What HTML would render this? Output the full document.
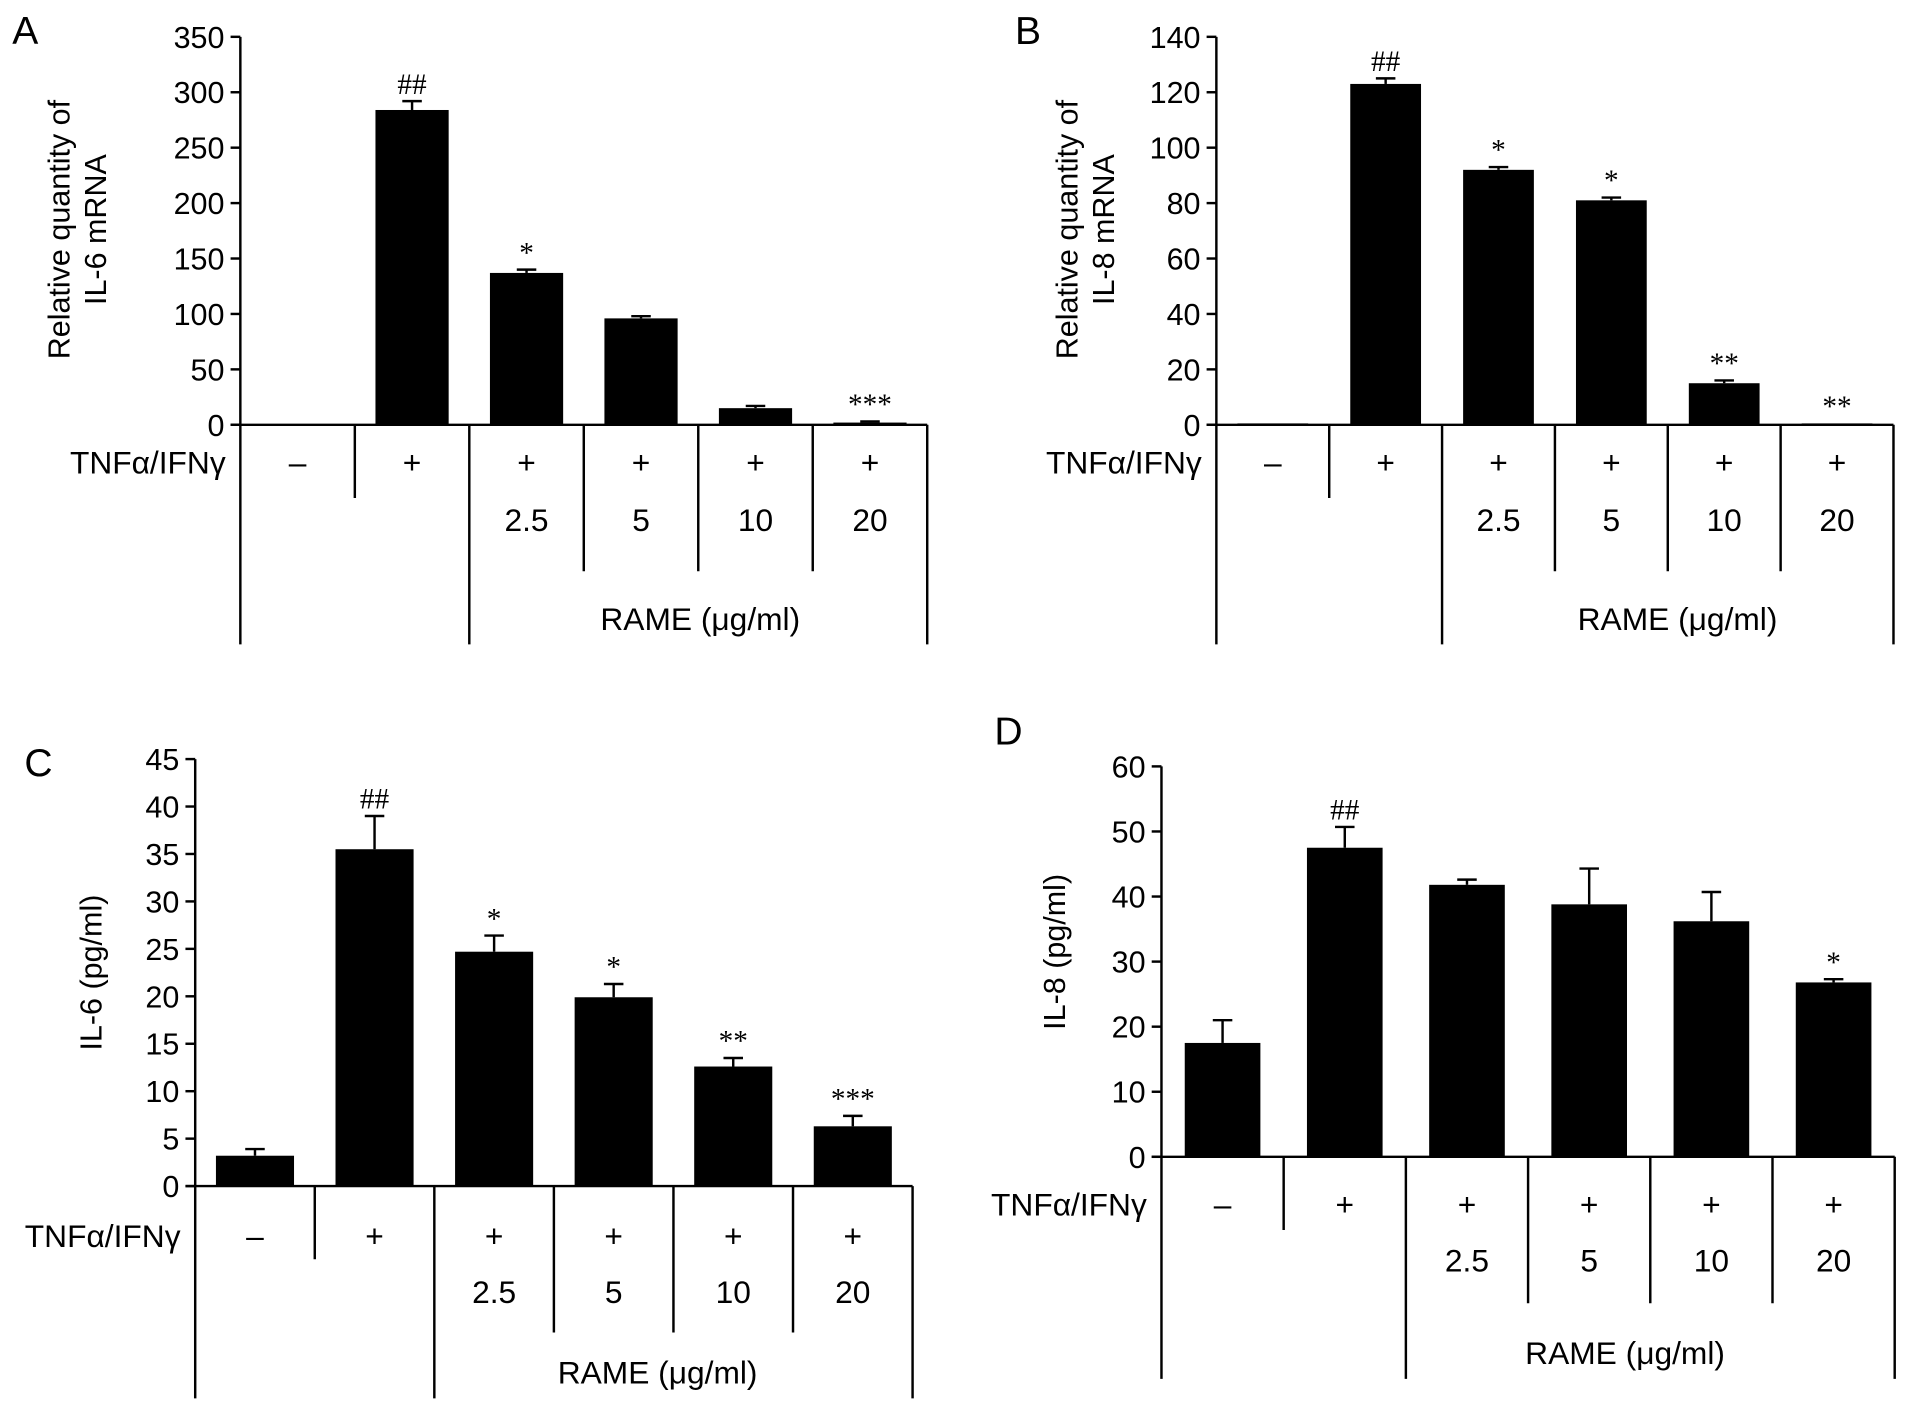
<!DOCTYPE html>
<html><head><meta charset="utf-8"><style>
html,body{margin:0;padding:0;background:#fff}
svg{display:block;font-family:"Liberation Sans",sans-serif}
</style></head><body>
<svg id="fig" width="1913" height="1423" viewBox="0 0 1568 1166" xmlns="http://www.w3.org/2000/svg"></svg>
<script>
// Panel A: IL-6 mRNA
const aValues=[0,284,137,96,15,2];
const aErrors=[0,8,3,2,2,1];
const aMarks=["","##","*","","","***"];
const aTicks=[0,50,100,150,200,250,300,350];
// Panel B: IL-8 mRNA
const bValues=[0.5,123,92,81,15,0.5];
const bErrors=[0,2,1,1,1,0];
const bMarks=["","##","*","*","**","**"];
const bTicks=[0,20,40,60,80,100,120,140];
// Panel C: IL-6 protein
const cValues=[3.2,35.5,24.7,19.9,12.6,6.3];
const cErrors=[0.7,3.5,1.7,1.4,0.9,1.1];
const cMarks=["","##","*","*","**","***"];
const cTicks=[0,5,10,15,20,25,30,35,40,45];
// Panel D: IL-8 protein
const dValues=[17.5,47.5,41.8,38.8,36.2,26.8];
const dErrors=[3.5,3.2,0.8,5.5,4.5,0.5];
const dMarks=["","##","","","","*"];
const dTicks=[0,10,20,30,40,50,60];
const signs=["\u2013","+","+","+","+","+"];
const doses=["","","2.5","5","10","20"];

const svg=document.getElementById('fig');
const NS="http://www.w3.org/2000/svg";
function mk(tag,attrs,parent,text){const e=document.createElementNS(NS,tag);for(const k in attrs)e.setAttribute(k,attrs[k]);if(text!==undefined)e.textContent=text;(parent||svg).appendChild(e);return e;}

function panel(o){
  const g=mk('g',{});
  
  
  const y=v=>o.y0-(v/o.max)*(o.y0-o.yTop);
  const step=(o.xEnd-o.x0)/6;
  const cx=i=>o.x0+step*(i+0.5);
  const ax=mk('line',{x1:o.x0,y1:o.yTop,x2:o.x0,y2:o.tableBottom,stroke:'#000','stroke-width':2},g);
  
  const xa=mk('line',{x1:o.x0-8,y1:o.y0,x2:o.xEnd,y2:o.y0,stroke:'#000','stroke-width':2},g);
  
  o.ticks.forEach(t=>{
    mk('line',{x1:o.x0-8,y1:y(t),x2:o.x0,y2:y(t),stroke:'#000','stroke-width':2},g);
    const tl=mk('text',{x:o.x0-13,y:y(t)+9,'font-size':25,'text-anchor':'end'},g,String(t));
    
  });
  o.values.forEach((v,i)=>{
    const b=mk('rect',{x:cx(i)-o.bw/2,y:y(v),width:o.bw,height:o.y0-y(v),fill:'#000'},g);
    
    const e=o.errors[i];
    if(e>0){
      mk('line',{x1:cx(i),y1:y(v),x2:cx(i),y2:y(v+e),stroke:'#000','stroke-width':2},g);
      mk('line',{x1:cx(i)-8,y1:y(v+e),x2:cx(i)+8,y2:y(v+e),stroke:'#000','stroke-width':2},g);
    }
    if(o.marks[i]){
      const m=mk('text',{x:cx(i),y:y(v+e)-6,'font-size':24,'text-anchor':'middle','font-family':'Liberation Serif, serif'},g,o.marks[i]);
      
    }
    const s=mk('text',{x:cx(i),y:o.y0+o.sOff,'font-size':26,'text-anchor':'middle'},g,signs[i]);
    
    if(doses[i]){const d=mk('text',{x:cx(i),y:o.y0+o.dOff,'font-size':26,'text-anchor':'middle'},g,doses[i]);
      }
  });
  const bx=i=>o.x0+step*i;
  mk('line',{x1:bx(1),y1:o.y0,x2:bx(1),y2:o.y0+60,stroke:'#000','stroke-width':2},g);
  [2,6].forEach(i=>mk('line',{x1:bx(i),y1:o.y0,x2:bx(i),y2:o.tableBottom,stroke:'#000','stroke-width':2},g));
  [3,4,5].forEach(i=>mk('line',{x1:bx(i),y1:o.y0,x2:bx(i),y2:o.y0+120,stroke:'#000','stroke-width':2},g));
  const t=mk('text',{x:o.x0-12,y:o.y0+o.sOff,'font-size':26,'text-anchor':'end'},g,'TNF\u03b1/IFN\u03b3');
  
  const r=mk('text',{x:o.rx,y:o.tableBottom-12,'font-size':26,'text-anchor':'middle'},g,'RAME (\u03bcg/ml)');
  
  const yl=mk('text',{transform:`translate(${o.ylx},${o.yly}) rotate(-90)`,'font-size':25,'text-anchor':'middle'},g);
  
  o.ylabel.forEach((l,k)=>mk('tspan',{x:0,dy:k?30:0},yl,l));
  const L=mk('text',{x:o.lx,y:o.ly,'font-size':32},g,o.id);
  
}
panel({id:'A',x0:197,xEnd:760,y0:348,yTop:30,max:350,ticks:aTicks,values:aValues,errors:aErrors,marks:aMarks,bw:60,tableBottom:528,sOff:40,dOff:87,rx:574,ylabel:['Relative quantity of','IL-6 mRNA'],ylx:57,yly:188,lx:10,ly:36});
panel({id:'B',x0:997,xEnd:1552,y0:348,yTop:30,max:140,ticks:bTicks,values:bValues,errors:bErrors,marks:bMarks,bw:58,tableBottom:528,sOff:40,dOff:87,rx:1375,ylabel:['Relative quantity of','IL-8 mRNA'],ylx:883,yly:188,lx:832,ly:36});
panel({id:'C',x0:160,xEnd:748,y0:972,yTop:622,max:45,ticks:cTicks,values:cValues,errors:cErrors,marks:cMarks,bw:64,tableBottom:1146,sOff:50,dOff:96,rx:539,ylabel:['IL-6 (pg/ml)'],ylx:83,yly:797,lx:20,ly:636});
panel({id:'D',x0:952,xEnd:1553,y0:948,yTop:628,max:60,ticks:dTicks,values:dValues,errors:dErrors,marks:dMarks,bw:62,tableBottom:1130,sOff:48,dOff:94,rx:1332,ylabel:['IL-8 (pg/ml)'],ylx:873,yly:780,lx:815,ly:610});
</script>
</body></html>
